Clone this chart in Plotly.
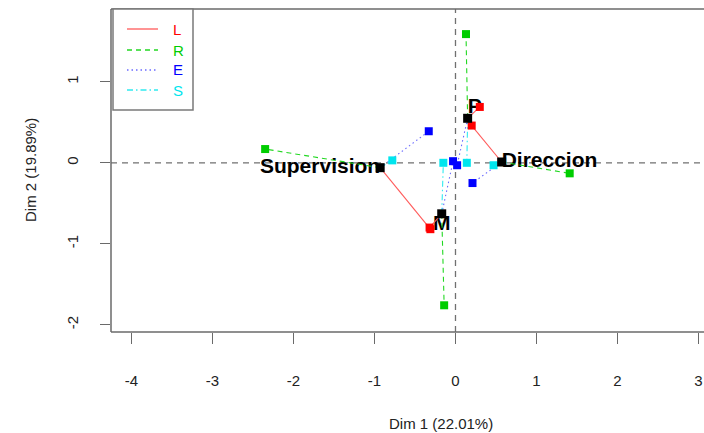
import plotly.graph_objects as go

# ---- data ----
individuals = ["Supervision", "Direccion", "M", "P"]
center_x = [-0.93, 0.57, -0.17, 0.15]
center_y = [-0.06, 0.01, -0.63, 0.55]

groups = ["L", "R", "E", "S"]
partial_x = {
    "L": [-0.31, 0.20, -0.32, 0.30],
    "R": [-2.35, 1.41, -0.14, 0.13],
    "E": [-0.33, 0.21, -0.03, 0.02],
    "S": [-0.78, 0.47, -0.15, 0.14],
}
partial_y = {
    "L": [-0.82, 0.46, -0.80, 0.69],
    "R": [0.17, -0.13, -1.76, 1.59],
    "E": [0.39, -0.25, 0.02, -0.03],
    "S": [0.03, -0.03, 0.00, 0.00],
}
x_ticks = [-4, -3, -2, -1, 0, 1, 2, 3]
y_ticks = [-2, -1, 0, 1]
x_title = "Dim 1 (22.01%)"
y_title = "Dim 2 (19.89%)"

# ---- styles ----
marker_col = {"L": "#ff0000", "R": "#00cd00", "E": "#0000ff", "S": "#00e5ee"}
line_col = {"L": "#ff5a5a", "R": "#22d822", "E": "#6a6aff", "S": "#30eaf0"}
line_dash = {"L": "solid", "R": "5px,4px", "E": "1.5px,3px", "S": "6px,3px,1.5px,3px"}
label_pos = ["middle left", "middle right", "bottom center", "top right"]
FONT = "Liberation Sans, Arial, sans-serif"

W, H = 704, 433
PLOT_L, PLOT_T, PLOT_B = 111, 9, 332          # window pixels
L_M, R_M, T_M = PLOT_L, 0, PLOT_T
B_M = H - PLOT_B
PW, PH = W - L_M - R_M, H - T_M - B_M


def xp(px):
    return (px - PLOT_L) / PW


def yp(py):
    return (PLOT_B - py) / PH


fig = go.Figure()

# labels (drawn first so squares sit on top)
fig.add_trace(go.Scatter(
    x=center_x, y=center_y, mode="text", text=individuals,
    textposition=label_pos,
    textfont=dict(family=FONT, size=21, color="#000000", weight="bold"),
    hoverinfo="skip", showlegend=False))

# partial lines
for g in groups:
    xs, ys = [], []
    for i in range(len(individuals)):
        xs += [center_x[i], partial_x[g][i], None]
        ys += [center_y[i], partial_y[g][i], None]
    fig.add_trace(go.Scatter(
        x=xs, y=ys, mode="lines",
        line=dict(color=line_col[g], width=1.1, dash=line_dash[g]),
        hoverinfo="skip", showlegend=False))

# partial points
for g in groups:
    fig.add_trace(go.Scatter(
        x=partial_x[g], y=partial_y[g], mode="markers",
        marker=dict(symbol="square", size=8, color=marker_col[g], line=dict(width=0)),
        name=g, showlegend=False))

# centres
fig.add_trace(go.Scatter(
    x=center_x, y=center_y, mode="markers",
    marker=dict(symbol="square", size=9, color="#000000", line=dict(width=0)),
    showlegend=False))

shapes = []
# zero reference lines
shapes.append(dict(type="line", xref="paper", yref="y", x0=0, x1=1, y0=0, y1=0,
                   line=dict(color="#707070", width=1.3, dash="6px,5px"), layer="below"))
shapes.append(dict(type="line", xref="x", yref="paper", x0=0, x1=0, y0=0, y1=1,
                   line=dict(color="#707070", width=1.3, dash="6px,5px"), layer="below"))
# plot box (right side falls outside the picture)
box_col = "#6a6a6a"
shapes.append(dict(type="line", xref="paper", yref="paper", x0=0, x1=1.2, y0=1, y1=1,
                   line=dict(color=box_col, width=1.5)))
shapes.append(dict(type="line", xref="paper", yref="paper", x0=0, x1=1.2, y0=0, y1=0,
                   line=dict(color=box_col, width=1.5)))
shapes.append(dict(type="line", xref="paper", yref="paper", x0=0, x1=0, y0=0, y1=1,
                   line=dict(color=box_col, width=1.5)))

# manual legend
shapes.append(dict(type="rect", xref="paper", yref="paper",
                   x0=xp(113), x1=xp(193), y0=yp(110), y1=yp(9),
                   line=dict(color="#7a7a7a", width=1.5), fillcolor="white"))
annotations = []
leg_y = [29, 50, 70, 90]
for g, ly in zip(groups, leg_y):
    shapes.append(dict(type="line", xref="paper", yref="paper",
                       x0=xp(127), x1=xp(158), y0=yp(ly), y1=yp(ly),
                       line=dict(color=line_col[g], width=1.3, dash=line_dash[g])))
    annotations.append(dict(x=xp(171), y=yp(ly), xref="paper", yref="paper",
                            text=g, showarrow=False, xanchor="left", yanchor="middle",
                            font=dict(family=FONT, size=15, color=marker_col[g])))

# axis titles
annotations.append(dict(x=xp(441), y=yp(423), xref="paper", yref="paper", text=x_title,
                        showarrow=False, xanchor="center", yanchor="middle",
                        font=dict(family=FONT, size=15, color="#222222")))
annotations.append(dict(x=xp(30), y=yp(170), xref="paper", yref="paper", text=y_title,
                        showarrow=False, xanchor="center", yanchor="middle", textangle=-90,
                        font=dict(family=FONT, size=15, color="#222222")))

fig.update_layout(
    width=W, height=H,
    margin=dict(l=L_M, r=R_M, t=T_M, b=B_M, pad=0),
    paper_bgcolor="white", plot_bgcolor="white",
    shapes=shapes, annotations=annotations,
    xaxis=dict(range=[-4.253, 3.068], tickvals=x_ticks, ticktext=[str(v) for v in x_ticks],
               showgrid=False, zeroline=False, showline=False,
               ticks="outside", ticklen=11, tickwidth=1.2, tickcolor=box_col,
               ticklabelstandoff=24,
               tickfont=dict(family=FONT, size=15, color="#222222")),
    yaxis=dict(range=[-2.09, 1.90], tickvals=y_ticks, ticktext=[str(v) for v in y_ticks],
               showgrid=False, zeroline=False, showline=False,
               ticks="outside", ticklen=10, tickwidth=1.2, tickcolor=box_col,
               tickangle=-90, ticklabelstandoff=16,
               tickfont=dict(family=FONT, size=15, color="#222222")),
    font=dict(family=FONT),
)

fig.write_html(
    "out.html",
    config={"displayModeBar": False},
    post_script="document.body.style.margin='0';document.body.style.overflow='hidden';",
)
